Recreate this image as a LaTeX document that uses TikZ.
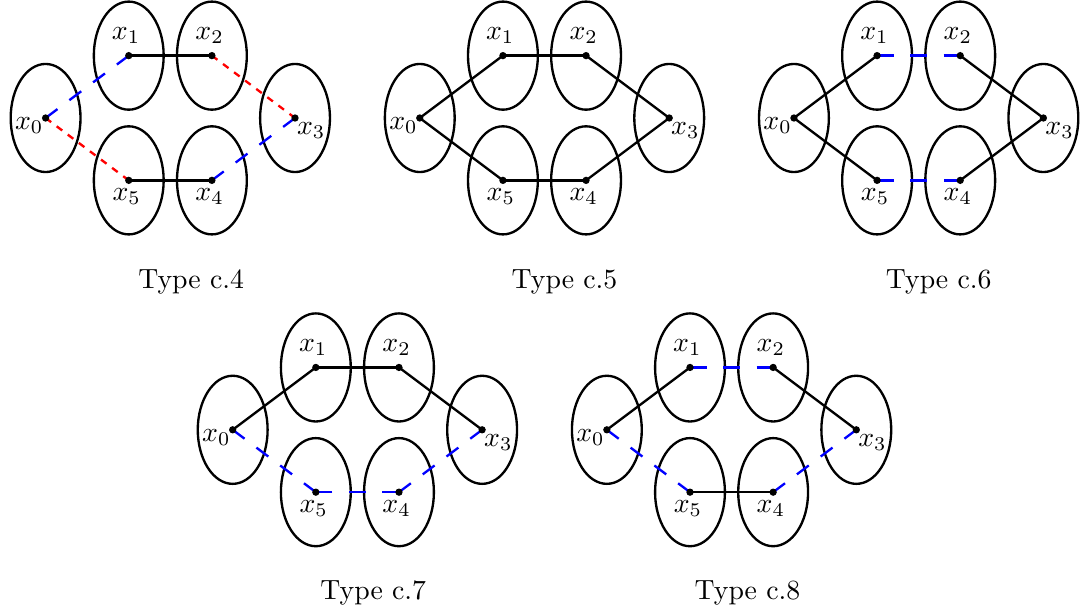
\documentclass[tikz,border=0pt]{standalone}
\usetikzlibrary{shapes.geometric}
\tikzset{
  vset/.style={draw, thick, ellipse, minimum width=0.84cm, minimum height=1.3cm, inner sep=0pt},
  plain/.style={thick, black},
  bluedashH/.style={thick, blue, dash pattern=on 2mm off 2mm},
  bluedashD/.style={thick, blue, dash pattern=on 1.7857mm off 1.7857mm},
  reddashD/.style={thick, red, dash pattern=on 0.8333mm off 0.8333mm},
  vlabel/.style={inner sep=0pt, scale=0.95},
  captionnode/.style={inner sep=0pt, scale=0.95},
}
\newcommand{\hexframe}{%
  \coordinate (p0) at (0,0);
  \coordinate (p1) at (1,0.75);
  \coordinate (p2) at (2,0.75);
  \coordinate (p3) at (3,0);
  \coordinate (p4) at (2,-0.75);
  \coordinate (p5) at (1,-0.75);
  \foreach \i in {0,...,5}{\node[vset] (e\i) at (p\i) {};}%
}
\newcommand{\hexdots}{%
  \foreach \i in {0,...,5}{\fill (p\i) circle (1.25pt);}%
  \node[vlabel, anchor=north east] (l0) at ([xshift=-0.55pt,yshift=0.35pt]p0) {$x_0$};
  \node[vlabel, anchor=south] (l1) at ([xshift=-0.9pt,yshift=4pt]p1) {$x_1$};
  \node[vlabel, anchor=south] (l2) at ([xshift=-0.8pt,yshift=4pt]p2) {$x_2$};
  \node[vlabel, anchor=north west] (l3) at ([xshift=0.5pt,yshift=-1.45pt]p3) {$x_3$};
  \node[vlabel, anchor=north] (l4) at ([xshift=-0.8pt,yshift=-2.6pt]p4) {$x_4$};
  \node[vlabel, anchor=north] (l5) at ([xshift=-0.7pt,yshift=-2.6pt]p5) {$x_5$};
}
\begin{document}
\begin{tikzpicture}
\useasboundingbox (0,0) rectangle (13.013,-7.348);
% Type c.4
\begin{scope}[shift={(0.5484,-1.4191)}, name prefix=A-]
  \hexframe
  \draw[bluedashD] (p0) -- (p1);
  \draw[plain] (p1) -- (p2);
  \draw[reddashD] (p2) -- (p3);
  \draw[bluedashD] (p3) -- (p4);
  \draw[plain] (p4) -- (p5);
  \draw[reddashD] (p5) -- (p0);
  \hexdots
  \node[captionnode] (cap) at (1.75,-1.975) {Type c.4};
\end{scope}
% Type c.5
\begin{scope}[shift={(5.0484,-1.4191)}, name prefix=B-]
  \hexframe
  \draw[plain] (p0) -- (p1);
  \draw[plain] (p1) -- (p2);
  \draw[plain] (p2) -- (p3);
  \draw[plain] (p3) -- (p4);
  \draw[plain] (p4) -- (p5);
  \draw[plain] (p5) -- (p0);
  \hexdots
  \node[captionnode] (cap) at (1.74,-1.975) {Type c.5};
\end{scope}
% Type c.6
\begin{scope}[shift={(9.5484,-1.4191)}, name prefix=C-]
  \hexframe
  \draw[plain] (p0) -- (p1);
  \draw[bluedashH] (p1) -- (p2);
  \draw[plain] (p2) -- (p3);
  \draw[plain] (p3) -- (p4);
  \draw[bluedashH] (p4) -- (p5);
  \draw[plain] (p5) -- (p0);
  \hexdots
  \node[captionnode] (cap) at (1.74,-1.975) {Type c.6};
\end{scope}
% Type c.7
\begin{scope}[shift={(2.7984,-5.1691)}, name prefix=D-]
  \hexframe
  \draw[plain] (p0) -- (p1);
  \draw[plain] (p1) -- (p2);
  \draw[plain] (p2) -- (p3);
  \draw[bluedashD] (p3) -- (p4);
  \draw[bluedashH] (p4) -- (p5);
  \draw[bluedashD] (p5) -- (p0);
  \hexdots
  \node[captionnode] (cap) at (1.69,-1.965) {Type c.7};
\end{scope}
% Type c.8
\begin{scope}[shift={(7.2984,-5.1691)}, name prefix=E-]
  \hexframe
  \draw[plain] (p0) -- (p1);
  \draw[bluedashH] (p1) -- (p2);
  \draw[plain] (p2) -- (p3);
  \draw[bluedashD] (p3) -- (p4);
  \draw[plain] (p4) -- (p5);
  \draw[bluedashD] (p5) -- (p0);
  \hexdots
  \node[captionnode] (cap) at (1.69,-1.965) {Type c.8};
\end{scope}
\end{tikzpicture}
\end{document}
